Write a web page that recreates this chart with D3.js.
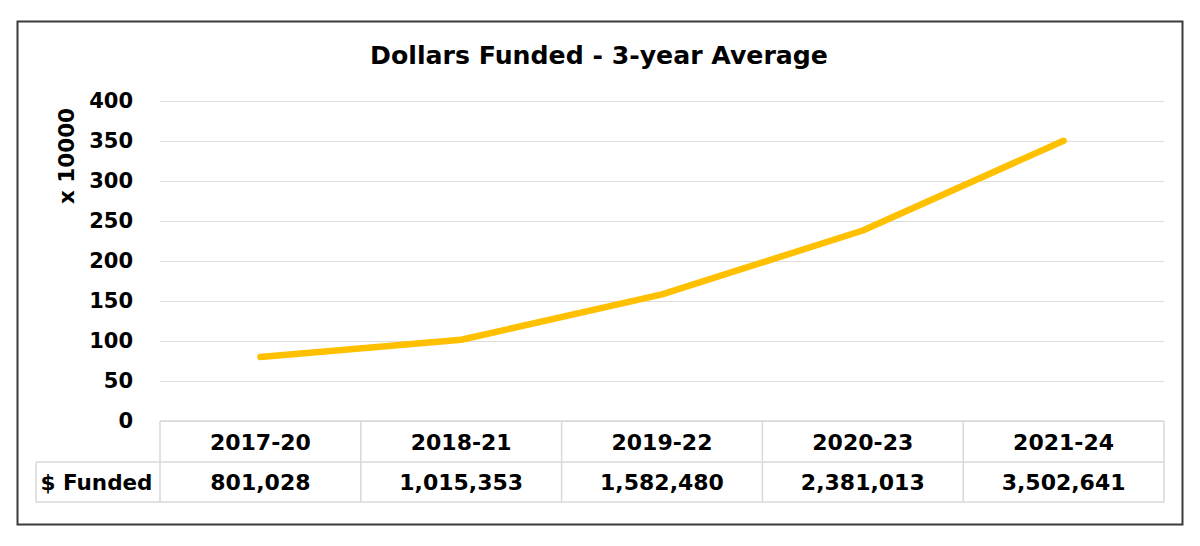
<!DOCTYPE html>
<html><head><meta charset="utf-8">
<script src="https://cdn.jsdelivr.net/npm/d3@7"></script>
<style>
html,body{margin:0;padding:0;background:#fff;}
svg text{font-family:"DejaVu Sans",sans-serif;font-weight:bold;fill:#000;}
</style></head>
<body>
<svg id="c" width="1200" height="546"></svg>
<script>
const title = "Dollars Funded - 3-year Average";
const yLabel = "x 10000";
const categories = ["2017-20","2018-21","2019-22","2020-23","2021-24"];
const funded = [801028,1015353,1582480,2381013,3502641];
const rowLabel = "$ Funded";
const yTicks = [0,50,100,150,200,250,300,350,400];
const scaleDiv = 10000;

const svg = d3.select("#c");
const L = 160, R = 1164, T = 101, B = 421;
const rowH = [41, 40];
const labelColLeft = 36;
const FONT = '"DejaVu Sans",sans-serif';

svg.append("rect").attr("x",17.5).attr("y",21.5).attr("width",1165).attr("height",503)
  .attr("fill","#fff").attr("stroke","#3a3a3a").attr("stroke-width",2);

svg.append("text").attr("x",599).attr("y",64).attr("text-anchor","middle")
  .attr("font-size",25.2).text(title);

const x = d3.scaleBand().domain(categories).range([L,R]);
const y = d3.scaleLinear().domain([0,400]).range([B,T]);

const ax = svg.append("g").attr("transform",`translate(${L},0)`)
  .call(d3.axisLeft(y).tickValues(yTicks).tickSize(-(R-L)).tickPadding(27));
ax.select(".domain").remove();
ax.selectAll(".tick line").attr("stroke","#dcdcdc").attr("stroke-width",1.2);
ax.selectAll(".tick text").attr("font-size",21).attr("font-family",FONT)
  .attr("font-weight","bold").attr("fill","#000");

svg.append("text").attr("transform",`translate(74,156) rotate(-90)`)
  .attr("text-anchor","middle").attr("font-size",21.5).text(yLabel);

const line = d3.line().x((d,i)=>x(categories[i])+x.bandwidth()/2).y(d=>y(d/scaleDiv));
svg.append("path").datum(funded).attr("d",line).attr("fill","none")
  .attr("stroke","#FFC000").attr("stroke-width",6.5).attr("stroke-linecap","round")
  .attr("stroke-linejoin","round");

const tg = svg.append("g");
const gridC = "#d9d9d9";
const r1 = B, r2 = B + rowH[0], r3 = r2 + rowH[1];
tg.append("line").attr("x1",L).attr("x2",R).attr("y1",r1).attr("y2",r1).attr("stroke",gridC).attr("stroke-width",1.5);
tg.append("line").attr("x1",labelColLeft).attr("x2",R).attr("y1",r2).attr("y2",r2).attr("stroke",gridC).attr("stroke-width",1.5);
tg.append("line").attr("x1",labelColLeft).attr("x2",R).attr("y1",r3).attr("y2",r3).attr("stroke",gridC).attr("stroke-width",1.5);
tg.append("line").attr("x1",labelColLeft).attr("x2",labelColLeft).attr("y1",r2).attr("y2",r3).attr("stroke",gridC).attr("stroke-width",1.5);
const bounds = categories.map(c=>x(c)).concat([R]);
bounds.forEach(bx=>{
  tg.append("line").attr("x1",bx).attr("x2",bx).attr("y1",r1).attr("y2",r3).attr("stroke",gridC).attr("stroke-width",1.5);
});
tg.selectAll(".cat").data(categories).join("text")
  .attr("x",d=>x(d)+x.bandwidth()/2).attr("y",(r1+r2)/2+8).attr("text-anchor","middle")
  .attr("font-size",22).text(d=>d);
tg.selectAll(".val").data(funded).join("text")
  .attr("x",(d,i)=>x(categories[i])+x.bandwidth()/2).attr("y",(r2+r3)/2+8).attr("text-anchor","middle")
  .attr("font-size",22).text(d=>d3.format(",")(d));
tg.append("text").attr("x",96.5).attr("y",(r2+r3)/2+8).attr("text-anchor","middle")
  .attr("font-size",21.5).text(rowLabel);
</script>
</body></html>
